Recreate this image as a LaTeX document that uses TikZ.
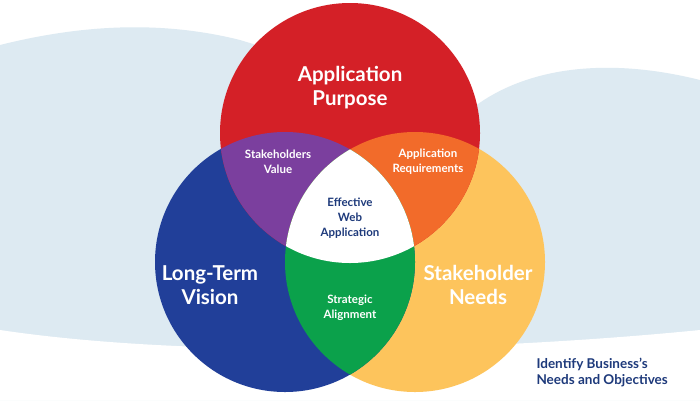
\documentclass[tikz,border=0pt]{standalone}
\usepackage{fontspec}
\setmainfont{Lato}
\definecolor{bgblue}{HTML}{DDEAF2}
\definecolor{cred}{HTML}{D42027}
\definecolor{cblue}{HTML}{213F99}
\definecolor{cyel}{HTML}{FDC45C}
\definecolor{cpur}{HTML}{7B3F9E}
\definecolor{corg}{HTML}{F26B2A}
\definecolor{cgrn}{HTML}{0BA14B}
\definecolor{navy}{HTML}{1E3A7B}
\tikzset{lab/.style={text=white,font=\bfseries,align=center},
 big/.style={lab,font=\bfseries\fontsize{20.5}{24}\selectfont},
 small/.style={lab,font=\bfseries\fontsize{11.5}{15}\selectfont}}
\begin{document}
\begin{tikzpicture}[x=1pt,y=-1pt]
\useasboundingbox (0,0) rectangle (700,400);
\fill[white] (0,0) rectangle (700,400);
\fill[bgblue] (0,45) .. controls (80,25) and (160,20) .. (240,40) -- (470,110)
  .. controls (520,70) and (600,55) .. (700,80) -- (700,400) -- (0,400) -- cycle;
\fill[white] (0,330) .. controls (200,360) and (500,350) .. (700,330) -- (700,400) -- (0,400) -- cycle;
\def\circT{(350,133) circle (130)}
\def\circL{(285,262) circle (130)}
\def\circR{(415,262) circle (130)}
\fill[cyel] \circR; \fill[cblue] \circL; \fill[cred] \circT;
\begin{scope}\clip \circT; \fill[cpur] \circL; \fill[corg] \circR; \end{scope}
\begin{scope}\clip \circL; \fill[cgrn] \circR; \end{scope}
\begin{scope}\clip \circT; \clip \circL; \fill[white] \circR; \end{scope}
\node[big] (ap) at (350,88) {Application\\Purpose};
\node[big] (lt) at (210,285) {Long-Term\\Vision};
\node[big] (sn) at (478,285) {Stakeholder\\Needs};
\node[small] (sv) at (278,162) {Stakeholders\\Value};
\node[small] (ar) at (428,162) {Application\\Requirements};
\node[small] (sa) at (350,308) {Strategic\\Alignment};
\node[small,text=navy] (ew) at (350,218) {Effective\\Web\\Application};
\node[font=\bfseries\fontsize{13.5}{16}\selectfont,text=navy,align=left,anchor=north west] (id) at (533,355) {Identify Business's\\Needs and Objectives};
\end{tikzpicture}
\end{document}
